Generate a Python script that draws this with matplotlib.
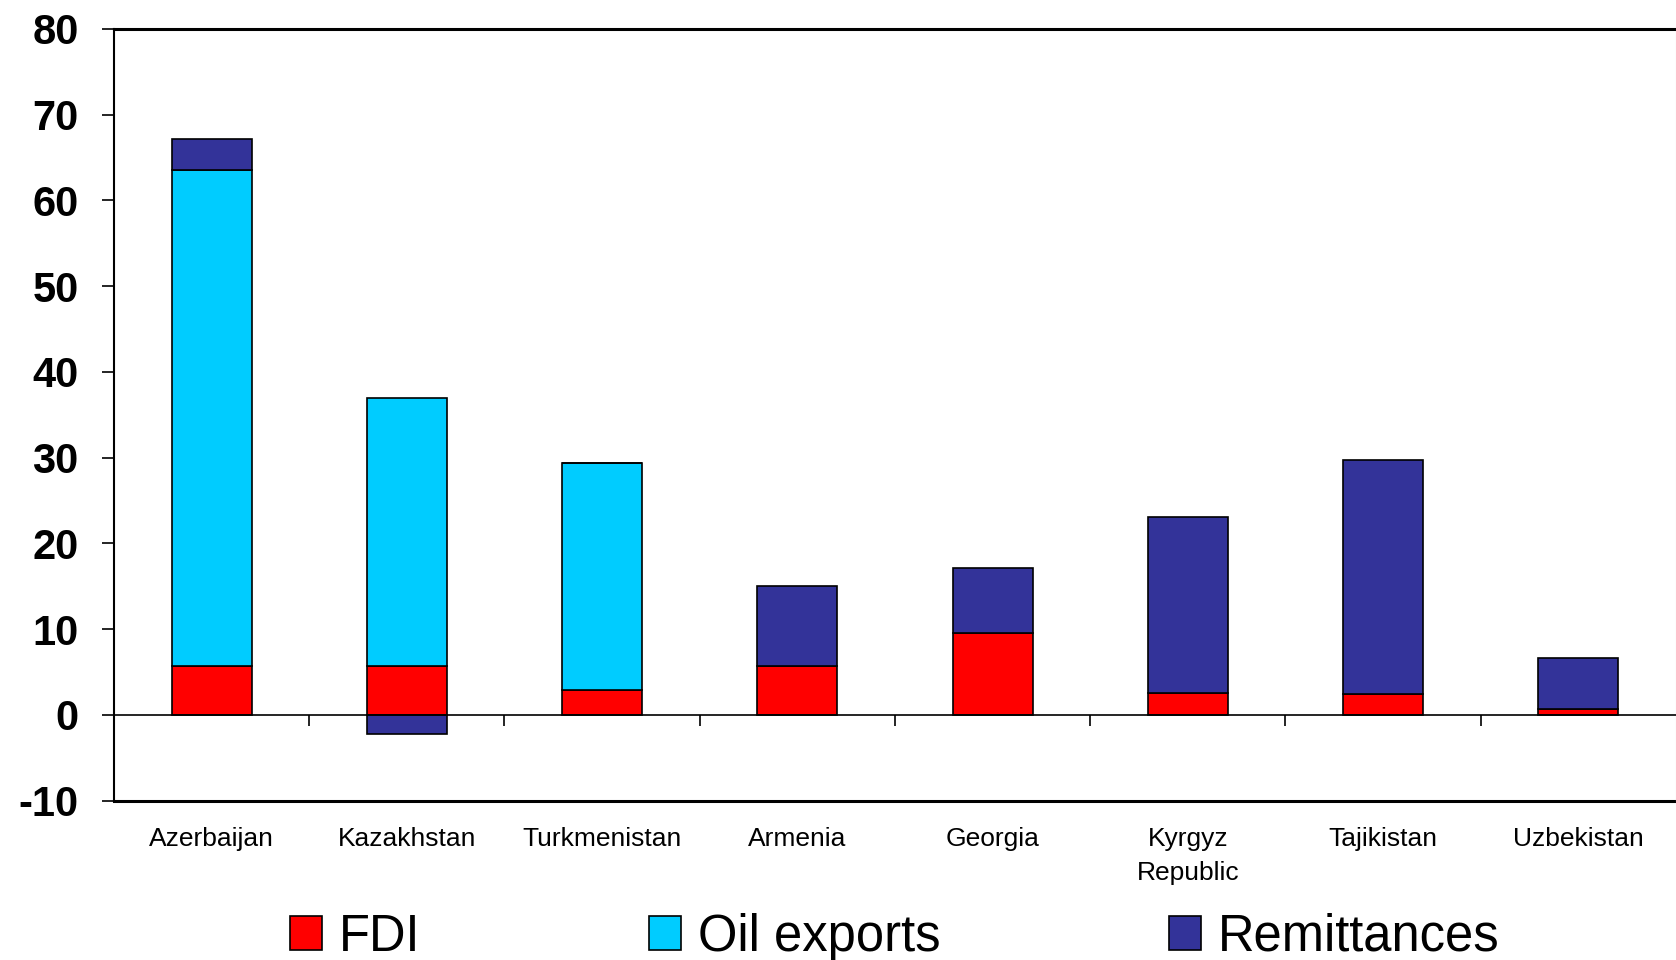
import numpy as np
import matplotlib
matplotlib.use("Agg")
import matplotlib.pyplot as plt

plt.rcParams['font.family'] = ['Liberation Sans', 'DejaVu Sans']
plt.rcParams['axes.unicode_minus'] = False

countries = ["Azerbaijan", "Kazakhstan", "Turkmenistan", "Armenia", "Georgia",
             "Kyrgyz\nRepublic", "Tajikistan", "Uzbekistan"]
fdi = [5.7, 5.7, 2.9, 5.7, 9.6, 2.6, 2.4, 0.7]
oil = [57.8, 31.2, 26.5, 0.0, 0.0, 0.0, 0.0, 0.0]
remit = [3.7, -2.2, 0.0, 9.3, 7.5, 20.5, 27.3, 5.9]

fig = plt.figure(figsize=(16.76, 9.6), dpi=100)
ax = fig.add_axes([0.068, 0.166, 0.932, 0.804])

x = np.arange(len(countries))
w = 0.41
ec = dict(edgecolor="black", linewidth=1.2)

fdi = np.array(fdi)
oil = np.array(oil)
remit = np.array(remit)

ax.bar(x, fdi, w, color="#FF0000", label="FDI", **ec)
m = oil > 0
ax.bar(x[m], oil[m], w, bottom=fdi[m], color="#00CCFF", label="Oil exports", **ec)
# remittances stack on top when positive, hang below zero when negative
bottom_r = np.where(remit >= 0, fdi + oil, 0)
ax.bar(x, remit, w, bottom=bottom_r, color="#333399", label="Remittances", **ec)

ax.set_xlim(-0.5, len(countries) - 0.5)
ax.set_ylim(-10, 80)
ax.set_yticks(range(-10, 81, 10))
ax.tick_params(axis="y", direction="out", length=8.5, width=1.2, pad=17, labelsize=30)
for t in ax.get_yticklabels():
    t.set_fontweight("bold")

# category axis sits at zero, ticks between categories, labels below plot
ax.spines["bottom"].set_position(("data", 0))
ax.set_xticks(x[:-1] + 0.5)
ax.set_xticklabels([])
ax.set_xticks(x, minor=True)
ax.set_xticklabels(countries, minor=True, fontsize=19, linespacing=1.5)
ax.tick_params(axis="x", which="major", direction="out", length=8, width=1.2)
ax.tick_params(axis="x", which="minor", length=0, pad=81)

ax.spines["bottom"].set_linewidth(1.2)
ax.spines["left"].set_linewidth(1.5)
ax.spines["top"].set_linewidth(2.2)
ax.spines["right"].set_color("#dddddd")
ax.axhline(-10, color="black", linewidth=2.2, clip_on=False)

fig.legend(loc="center", bbox_to_anchor=(0.534, 0.0235), ncol=3, frameon=False,
           fontsize=36.5, handlelength=0.63, handleheight=0.65, handletextpad=0.34,
           columnspacing=4.5, borderaxespad=0)

fig.savefig("out.png", dpi=100)
